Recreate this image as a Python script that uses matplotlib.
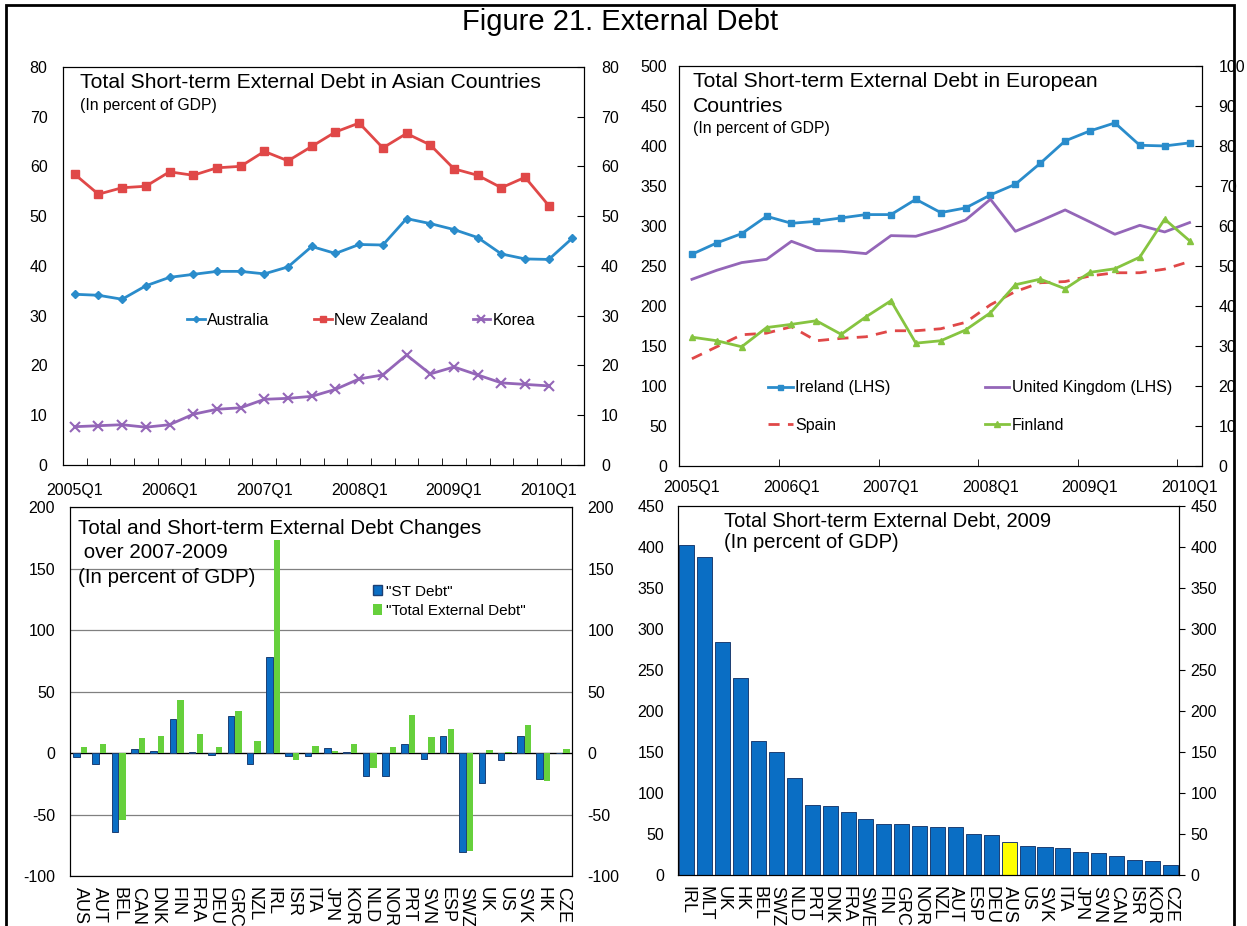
import matplotlib
matplotlib.use("Agg")
import matplotlib.pyplot as plt
import numpy as np
from matplotlib.patches import Patch, Rectangle

plt.rcParams['font.family'] = ['Liberation Sans', 'DejaVu Sans']
plt.rcParams['axes.unicode_minus'] = False

# ---- data: Asian countries (percent of GDP), 2005Q1-2010Q2
quarters_asia = [f"{y}Q{q}" for y in range(2005, 2011) for q in range(1, 5)][:22]
australia = [34.3, 34.1, 33.3, 36.0, 37.7, 38.3, 38.9, 38.9, 38.4, 39.8, 43.9,
             42.5, 44.3, 44.2, 49.5, 48.5, 47.3, 45.7, 42.4, 41.4, 41.3, 45.6]
new_zealand = [58.4, 54.4, 55.7, 56.0, 58.9, 58.2, 59.7, 60.0, 63.0, 61.1, 64.0,
               66.9, 68.7, 63.7, 66.6, 64.3, 59.5, 58.2, 55.7, 57.8, 52.1]
korea = [7.7, 7.9, 8.1, 7.6, 8.1, 10.2, 11.2, 11.5, 13.2, 13.4, 13.8,
         15.2, 17.3, 18.1, 22.1, 18.3, 19.7, 18.1, 16.5, 16.2, 15.9]

# ---- data: European countries, 2005Q1-2010Q1
quarters_eur = quarters_asia[:21]
ireland = [264.6, 278.8, 290.4, 312.1, 303.3, 305.8, 310.0, 314.2, 314.2, 333.3, 316.7,
           322.5, 338.8, 352.1, 378.3, 406.3, 418.8, 428.8, 400.8, 400.0, 403.8]
uk = [233.3, 244.6, 254.2, 258.3, 280.8, 269.2, 268.3, 265.4, 287.9, 287.1, 296.3,
      307.5, 333.3, 293.3, 306.3, 320.0, 305.0, 289.6, 300.8, 292.5, 304.2]
spain = [26.8, 29.8, 32.8, 33.2, 34.8, 31.3, 31.9, 32.3, 33.8, 33.8, 34.3,
         35.9, 40.3, 43.6, 45.8, 46.1, 47.5, 48.3, 48.3, 49.2, 51.1]
finland = [32.2, 31.3, 29.8, 34.6, 35.4, 36.3, 32.9, 37.3, 41.3, 30.7, 31.3,
           34.0, 38.3, 45.3, 46.7, 44.3, 48.4, 49.3, 52.2, 61.7, 56.3]

# ---- data: changes over 2007-2009
countries_chg = ['AUS', 'AUT', 'BEL', 'CAN', 'DNK', 'FIN', 'FRA', 'DEU', 'GRC', 'NZL',
                 'IRL', 'ISR', 'ITA', 'JPN', 'KOR', 'NLD', 'NOR', 'PRT', 'SVN', 'ESP',
                 'SWZ', 'UK', 'US', 'SVK', 'HK', 'CZE']
st_debt_chg = [-3.3, -8.7, -64.3, 3.2, 1.9, 27.7, 0.8, -1.9, 30.4, -9.0,
               77.8, -2.7, -2.7, 4.0, 0.8, -18.5, -19.0, 7.6, -4.9, 13.5,
               -80.6, -24.7, -6.0, 13.8, -21.2, 0.0]
total_debt_chg = [4.6, 7.6, -54.8, 11.9, 13.5, 43.4, 15.4, 4.9, 33.9, 9.5,
                  173.6, -5.7, 5.9, 1.6, 7.0, -12.0, 4.9, 31.2, 12.7, 19.5,
                  -80.0, 2.9, 0.8, 23.0, -23.1, 3.5]

# ---- data: short-term external debt 2009
countries_2009 = ['IRL', 'MLT', 'UK', 'HK', 'BEL', 'SWZ', 'NLD', 'PRT', 'DNK', 'FRA',
                  'SWE', 'FIN', 'GRC', 'NOR', 'NZL', 'AUT', 'ESP', 'DEU', 'AUS', 'US',
                  'SVK', 'ITA', 'JPN', 'SVN', 'CAN', 'ISR', 'KOR', 'CZE']
st_debt_2009 = [402, 388, 283.6, 239.7, 163.6, 150.1, 118, 84.7, 83.5, 76.2,
                67.6, 61.9, 61.5, 59.1, 57.9, 57.9, 49.7, 48.1, 39.9, 35.0,
                33.4, 32.2, 27.7, 26.5, 22.8, 18.3, 16.7, 11.8]
highlight = 'AUS'

BLUE_LINE = '#2a8ccb'
RED = '#e04848'
PURPLE = '#9466b8'
GREEN = '#86c440'
BAR_BLUE = '#0a6ec4'
BAR_GREEN = '#66d03c'
FS = 11.5

fig = plt.figure(figsize=(12.47, 9.26), dpi=100)
fig.patches.append(Rectangle((0.0048, -0.02), 0.9848, 1.0146, transform=fig.transFigure,
                             fill=False, edgecolor='black', linewidth=2.0))
fig.text(0.497, 0.976, "Figure 21. External Debt", ha='center', va='center', fontsize=21)


def style_quarter_axis(ax, n, every_tick):
    ax.set_xlim(-0.5, n - 0.5)
    ax.set_xticks(range(0, n, 4))
    ax.set_xticklabels([quarters_asia[i] for i in range(0, n, 4)])
    if every_tick:
        ax.set_xticks(np.arange(0.5, n - 1, 1), minor=True)
    else:
        ax.set_xticks(np.arange(3.5, n - 1, 4), minor=True)
    ax.tick_params(axis='x', which='major', length=0, labelsize=FS)
    ax.tick_params(axis='x', which='minor', direction='in', length=5)


# ---------- top left
ax1 = fig.add_axes([0.0504, 0.4978, 0.4182, 0.4301])
x = np.arange(len(quarters_asia))
ax1.plot(x, australia, color=BLUE_LINE, lw=2, marker='D', ms=4, label='Australia')
ax1.plot(x[:len(new_zealand)], new_zealand, color=RED, lw=2, marker='s', ms=6, label='New Zealand')
ax1.plot(x[:len(korea)], korea, color=PURPLE, lw=2, marker='x', ms=7, mew=1.5, label='Korea')
ax1.set_ylim(0, 80)
ax1.set_yticks(range(0, 81, 10))
style_quarter_axis(ax1, len(quarters_asia), True)
ax1.tick_params(axis='x', which='major', pad=13)
ax1.tick_params(axis='y', length=0, pad=11, labelsize=FS)
ax1r = ax1.twinx()
ax1r.set_ylim(0, 80)
ax1r.set_yticks(range(0, 81, 10))
ax1r.tick_params(axis='y', direction='in', length=5, pad=12, labelsize=FS)
ax1.text(0.033, 0.985, "Total Short-term External Debt in Asian Countries",
         transform=ax1.transAxes, fontsize=15.2, va='top')
ax1.text(0.033, 0.922, "(In percent of GDP)", transform=ax1.transAxes, fontsize=11.3, va='top')
ax1.legend(loc='center left', bbox_to_anchor=(0.238, 0.364), ncol=3, frameon=False,
           fontsize=FS, handlelength=1.1, handletextpad=0.15, columnspacing=2.8,
           borderpad=0, borderaxespad=0, markerscale=0.8)

# ---------- top right
ax2 = fig.add_axes([0.5449, 0.4968, 0.4190, 0.4320])
xe = np.arange(len(quarters_eur))
ax2r = ax2.twinx()
h_ire, = ax2.plot(xe, ireland, color=BLUE_LINE, lw=2, marker='s', ms=4.5, label='Ireland (LHS)')
h_uk, = ax2.plot(xe, uk, color=PURPLE, lw=2, label='United Kingdom (LHS)')
h_esp, = ax2r.plot(xe, spain, color=RED, lw=2, ls=(0, (4, 3)), label='Spain')
h_fin, = ax2r.plot(xe, finland, color=GREEN, lw=2, marker='^', ms=5, label='Finland')
ax2.set_ylim(0, 500)
ax2.set_yticks(range(0, 501, 50))
ax2r.set_ylim(0, 100)
ax2r.set_yticks(range(0, 101, 10))
style_quarter_axis(ax2, len(quarters_eur), False)
ax2.tick_params(axis='x', which='major', pad=10)
ax2.tick_params(axis='y', length=0, pad=9, labelsize=FS)
ax2r.tick_params(axis='y', direction='in', length=5, pad=12, labelsize=FS)
ax2.text(0.026, 0.985, "Total Short-term External Debt in European",
         transform=ax2.transAxes, fontsize=15.2, va='top')
ax2.text(0.026, 0.922, "Countries", transform=ax2.transAxes, fontsize=15.2, va='top')
ax2.text(0.026, 0.862, "(In percent of GDP)", transform=ax2.transAxes, fontsize=11.3, va='top')
ax2r.legend(handles=[h_ire, h_esp, h_uk, h_fin], loc='center left',
            bbox_to_anchor=(0.169, 0.149), ncol=2, frameon=False, fontsize=FS,
            handlelength=1.55, handletextpad=0.15, columnspacing=5.9, labelspacing=1.4,
            borderpad=0, borderaxespad=0, markerscale=0.8)

# ---------- bottom left
ax3 = fig.add_axes([0.0564, 0.0540, 0.4026, 0.3982])
xc = np.arange(len(countries_chg))
ax3.bar(xc - 0.19, st_debt_chg, width=0.34, color=BAR_BLUE, edgecolor='#1c3f73',
        linewidth=0.7, zorder=3)
ax3.bar(xc + 0.2, total_debt_chg, width=0.33, color=BAR_GREEN, zorder=3)
ax3.set_xlim(-0.5, len(countries_chg) - 0.5)
ax3.set_ylim(-100, 200)
ax3.set_yticks(range(-100, 201, 50))
ax3.grid(axis='y', color='#808080', lw=0.9, zorder=0)
ax3.axhline(0, color='black', lw=0.9, zorder=2)
ax3.set_xticks(xc)
ax3.set_xticklabels(countries_chg, rotation=270, fontsize=13)
ax3.tick_params(axis='x', length=0, pad=8)
ax3.tick_params(axis='y', length=0, pad=11, labelsize=FS)
ax3r = ax3.twinx()
ax3r.set_ylim(-100, 200)
ax3r.set_yticks(range(-100, 201, 50))
ax3r.tick_params(axis='y', length=0, pad=11, labelsize=FS)
ax3.text(0.015, 0.968, "Total and Short-term External Debt Changes",
         transform=ax3.transAxes, fontsize=14.8, va='top')
ax3.text(0.015, 0.902, " over 2007-2009", transform=ax3.transAxes, fontsize=14.8, va='top')
ax3.text(0.015, 0.835, "(In percent of GDP)", transform=ax3.transAxes, fontsize=14.8, va='top')
ax3.legend(handles=[Patch(facecolor=BAR_BLUE, edgecolor='#1c3f73', label='"ST Debt"'),
                    Patch(facecolor=BAR_GREEN, label='"Total External Debt"')],
           loc='center left', bbox_to_anchor=(0.602, 0.745), frameon=False, fontsize=11,
           handlelength=0.65, handleheight=0.65, handletextpad=0.2, labelspacing=0.35,
           borderpad=0, borderaxespad=0)

# ---------- bottom right
ax4 = fig.add_axes([0.5437, 0.0554, 0.4020, 0.3982])
xb = np.arange(len(countries_2009))
bar_colors = ['#ffff00' if c == highlight else BAR_BLUE for c in countries_2009]
ax4.bar(xb, st_debt_2009, width=0.84, color=bar_colors, edgecolor='#1c3f73', linewidth=0.7)
ax4.set_xlim(-0.5, len(countries_2009) - 0.5)
ax4.set_ylim(0, 450)
ax4.set_yticks(range(0, 451, 50))
ax4.set_xticks(xb)
ax4.set_xticklabels(countries_2009, rotation=270, fontsize=13)
ax4.tick_params(axis='x', length=0, pad=8)
ax4.tick_params(axis='y', length=0, pad=10, labelsize=FS)
ax4r = ax4.twinx()
ax4r.set_ylim(0, 450)
ax4r.set_yticks(range(0, 451, 50))
ax4r.tick_params(axis='y', direction='out', length=4, pad=4, labelsize=FS)
ax4.text(0.0926, 0.985, "Total Short-term External Debt, 2009",
         transform=ax4.transAxes, fontsize=14.5, va='top')
ax4.text(0.0926, 0.926, "(In percent of GDP)", transform=ax4.transAxes, fontsize=14.5, va='top')

fig.savefig("out.png", dpi=100)
